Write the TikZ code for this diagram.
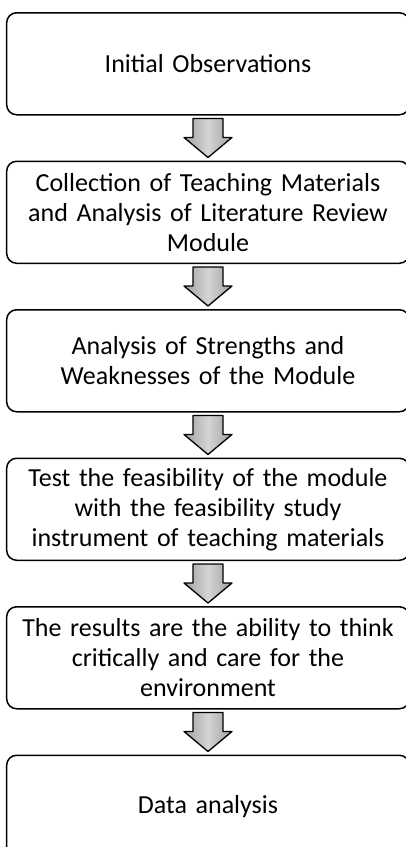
\documentclass[tikz,border=0pt]{standalone}
\usepackage{fontspec}
\setmainfont{Carlito}
\usetikzlibrary{positioning,calc}
\newcommand{\boxWidth}[0]{398pt}
\newcommand{\boxHeight}[0]{102pt}
\newcommand{\boxGap}[0]{45pt}
\definecolor{arrowgray}{HTML}{A0A0A0}
\definecolor{arrowlight}{HTML}{D4D4D4}
% block arrow from the bottom of one step to the top of the next
\newcommand{\stepArrow}[2]{%
  \draw[downarrow] ([xshift=-15pt, yshift=-3pt]#1.south)
    -- ([xshift=15pt, yshift=-3pt]#1.south)
    -- ([xshift=15pt, yshift=23pt]#2.north)
    -- ([xshift=24pt, yshift=23pt]#2.north)
    -- ([yshift=3pt]#2.north)
    -- ([xshift=-24pt, yshift=23pt]#2.north)
    -- ([xshift=-15pt, yshift=23pt]#2.north) -- cycle;}

\begin{document}
\begin{tikzpicture}[x=1pt, y=1pt]
  \tikzset{stepbox/.style={draw, line width=1.5pt, rounded corners=10pt,
      minimum width=\boxWidth, minimum height=\boxHeight,
      text width=396pt, align=center, font=\fontsize{26}{30}\selectfont}}
  \tikzset{downarrow/.style={draw, line width=1.3pt, line join=round,
      left color=arrowgray, right color=arrowgray, middle color=arrowlight}}
  \useasboundingbox (0,0) rectangle (406,-847);
  \clip (0,0) rectangle (406,-847);
  \node[stepbox, anchor=north] (step-1) at (208,-12) {Initial Observations};
  \node[stepbox, below=\boxGap of step-1] (step-2)
    {Collection of Teaching Materials\\and Analysis of Literature Review\\Module};
  \node[stepbox, below=\boxGap of step-2] (step-3)
    {Analysis of Strengths and\\Weaknesses of the Module};
  \node[stepbox, below=\boxGap of step-3] (step-4)
    {Test the feasibility of the module\\with the feasibility study\\instrument of teaching materials};
  \node[stepbox, below=\boxGap of step-4] (step-5)
    {The results are the ability to think\\critically and care for the\\environment};
  \node[stepbox, below=\boxGap of step-5] (step-6) {Data analysis};
  % arrows between the steps
  \stepArrow{step-1}{step-2}
  \stepArrow{step-2}{step-3}
  \stepArrow{step-3}{step-4}
  \stepArrow{step-4}{step-5}
  \stepArrow{step-5}{step-6}
\end{tikzpicture}
\end{document}
